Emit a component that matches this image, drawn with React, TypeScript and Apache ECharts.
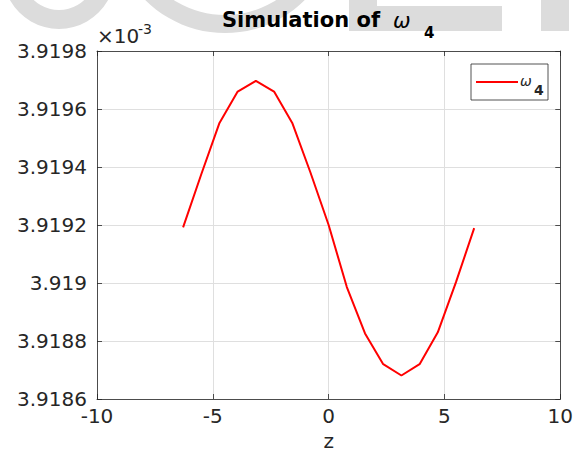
import React, { useEffect, useRef } from "react";
import * as echarts from "echarts";

const zValues = [-6.2832, -5.4978, -4.7124, -3.927, -3.1416, -2.3562, -1.5708, -0.7854, 0, 0.7854, 1.5708, 2.3562, 3.1416, 3.927, 4.7124, 5.4978, 6.2832];
const omega4 = [3.919192, 3.919375, 3.919552, 3.91966, 3.919697, 3.91966, 3.919552, 3.919381, 3.9192, 3.918986, 3.918826, 3.91872, 3.918681, 3.91872, 3.91883, 3.919003, 3.919189];
const xTicks = [-10, -5, 0, 5, 10];
const yTicks = ["3.9186", "3.9188", "3.919", "3.9192", "3.9194", "3.9196", "3.9198"];

const FONT = "DejaVu Sans";
const AX = "#262626";
const WM = "#dcdcdc";

export default function App() {
  const ref = useRef<HTMLDivElement>(null);
  useEffect(() => {
    if (!ref.current) return;
    const chart = echarts.init(ref.current, undefined, { renderer: "svg" });
    const yMin = parseFloat(yTicks[0]);
    const yMax = parseFloat(yTicks[yTicks.length - 1]);
    const yStep = 0.0002;
    const fmtY = (v: number) => {
      const idx = Math.round((v - yMin) / yStep);
      return yTicks[idx] ?? "";
    };
    const common = {
      axisLine: { show: true, onZero: false, lineStyle: { color: AX, width: 0.8 } },
      axisTick: { show: true, inside: true, length: 5, lineStyle: { color: AX, width: 0.8 } },
    };
    chart.setOption({
      animation: false,
      backgroundColor: "#ffffff",
      grid: { left: 97, right: 13, top: 51, bottom: 55, show: false },
      xAxis: [
        {
          type: "value",
          min: xTicks[0],
          max: xTicks[xTicks.length - 1],
          interval: 5,
          position: "bottom",
          name: "z",
          nameLocation: "middle",
          nameGap: 32,
          nameTextStyle: { fontFamily: FONT, fontSize: 20, color: AX },
          ...common,
          axisLabel: { fontFamily: FONT, fontSize: 20, color: AX, margin: 7 },
          splitLine: { show: true, lineStyle: { color: "#dfdfdf", width: 1 } },
        },
        {
          type: "value",
          min: xTicks[0],
          max: xTicks[xTicks.length - 1],
          interval: 5,
          position: "top",
          ...common,
          axisLabel: { show: false },
          splitLine: { show: false },
        },
      ],
      yAxis: [
        {
          type: "value",
          min: yMin,
          max: yMax,
          interval: yStep,
          position: "left",
          ...common,
          axisLabel: { fontFamily: FONT, fontSize: 20, color: AX, margin: 10, formatter: fmtY },
          splitLine: { show: true, lineStyle: { color: "#dfdfdf", width: 1 } },
        },
        {
          type: "value",
          min: yMin,
          max: yMax,
          interval: yStep,
          position: "right",
          ...common,
          axisLabel: { show: false },
          splitLine: { show: false },
        },
      ],
      series: [
        {
          type: "line",
          name: "ω4",
          data: zValues.map((z, i) => [z, omega4[i]]),
          symbol: "none",
          lineStyle: { color: "#ff0000", width: 2 },
          z: 5,
        },
      ],
      graphic: [
        { type: "ring", shape: { cx: 59, cy: -27, r: 56, r0: 37 }, style: { fill: WM }, silent: true, z: -10 },
        { type: "ring", shape: { cx: 225, cy: -80, r: 113, r0: 95 }, style: { fill: WM }, silent: true, z: -10 },
        { type: "rect", shape: { x: 349, y: 0, width: 28, height: 31 }, style: { fill: WM }, silent: true, z: -10 },
        { type: "rect", shape: { x: 377, y: 6, width: 125, height: 25 }, style: { fill: WM }, silent: true, z: -10 },
        { type: "rect", shape: { x: 541, y: 0, width: 28, height: 31 }, style: { fill: WM }, silent: true, z: -10 },
        {
          type: "text", x: 222, y: 20, z: 10,
          style: { text: "Simulation of", fontFamily: FONT, fontSize: 21, fontWeight: "bold", fill: "#000", verticalAlign: "middle" },
        },
        {
          type: "text", x: 393, y: 21, z: 10,
          style: { text: "ω", fontFamily: FONT, fontSize: 21, fontStyle: "italic", fill: "#000", verticalAlign: "middle" },
        },
        {
          type: "text", x: 424, y: 33, z: 10,
          style: { text: "4", fontFamily: FONT, fontSize: 15, fontWeight: "bold", fill: "#000", verticalAlign: "middle" },
        },
        {
          type: "text", x: 97, y: 36, z: 10,
          style: { text: "×10", fontFamily: FONT, fontSize: 20, fill: AX, verticalAlign: "middle" },
        },
        {
          type: "text", x: 138, y: 28.5, z: 10,
          style: { text: "-3", fontFamily: FONT, fontSize: 14, fill: AX, verticalAlign: "middle" },
        },
        {
          type: "rect", shape: { x: 471, y: 64, width: 77, height: 36 }, z: 10,
          style: { fill: "#ffffff", stroke: AX, lineWidth: 0.8 },
        },
        {
          type: "line", shape: { x1: 476, y1: 82, x2: 518, y2: 82 }, z: 11,
          style: { stroke: "#ff0000", lineWidth: 2 },
        },
        {
          type: "text", x: 520, y: 80.5, z: 11,
          style: { text: "ω", fontFamily: FONT, fontSize: 14, fontStyle: "italic", fill: AX, verticalAlign: "middle" },
        },
        {
          type: "text", x: 534, y: 90, z: 11,
          style: { text: "4", fontFamily: FONT, fontSize: 14, fontWeight: "bold", fill: AX, verticalAlign: "middle" },
        },
      ],
    });
    return () => chart.dispose();
  }, []);
  return <div ref={ref} style={{ width: 576, height: 456, position: "absolute", left: 0, top: 0 }} />;
}
